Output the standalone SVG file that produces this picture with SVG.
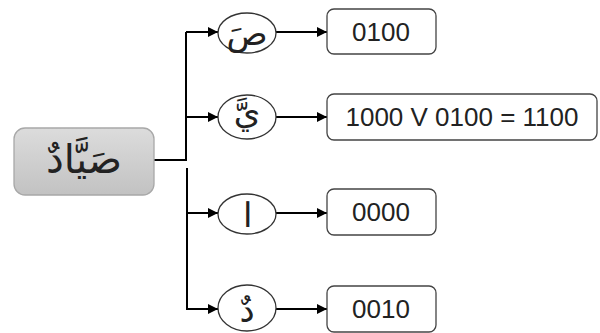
<svg xmlns="http://www.w3.org/2000/svg" width="600" height="333" viewBox="0 0 600 333">
<defs>
<linearGradient id="g" x1="0" y1="0" x2="0" y2="1">
<stop offset="0" stop-color="#dcdcdc"/>
<stop offset="1" stop-color="#c2c2c2"/>
</linearGradient>
<marker id="ah" viewBox="0 0 10 10" refX="10" refY="5" markerWidth="6" markerHeight="5" orient="auto" markerUnits="strokeWidth">
<path d="M0,0 L10,5 L0,10 z" fill="#000"/>
</marker>
</defs>
<style>
.box{fill:#fff;stroke:#444;stroke-width:1.3}
.ell{fill:#fff;stroke:#333;stroke-width:1.3}
.num{font-family:"Liberation Sans","DejaVu Sans",sans-serif;font-size:26px;fill:#222;text-anchor:middle;dominant-baseline:central}
.ar{font-family:"DejaVu Sans",sans-serif;font-size:34px;fill:#222;text-anchor:middle}
.ln{fill:none;stroke:#000;stroke-width:2}
.arr{fill:none;stroke:#000;stroke-width:2;marker-end:url(#ah)}
</style>
<rect width="600" height="333" fill="#fff"/>
<g id="connectors">
<polyline class="ln" points="154,160 186,160 186,32"/>
<line class="ln" x1="187" y1="168" x2="187" y2="310"/>
<line class="arr" x1="186" y1="32" x2="218" y2="32"/>
<line class="arr" x1="187" y1="117" x2="218" y2="117"/>
<line class="arr" x1="187" y1="213" x2="218" y2="213"/>
<line class="arr" x1="187" y1="309" x2="218" y2="309"/>
<line class="arr" x1="276" y1="32" x2="327" y2="32"/>
<line class="arr" x1="276" y1="117" x2="327" y2="117"/>
<line class="arr" x1="276" y1="213" x2="327" y2="213"/>
<line class="arr" x1="276" y1="309" x2="327" y2="309"/>
</g>
<g id="root">
<rect x="14" y="128" width="140" height="67" rx="11" fill="url(#g)" stroke="#a8a8a8" stroke-width="1.3"/>
<text class="ar" x="84" y="173" style="font-size:40px">صَيَّادٌ</text>
</g>
<g id="e1"><ellipse class="ell" cx="247" cy="33" rx="29" ry="20"/><text class="ar" x="247" y="45">صَ</text></g>
<g id="e2"><ellipse class="ell" cx="247" cy="117" rx="29" ry="22"/><text class="ar" x="247" y="124">يَّ</text></g>
<g id="e3"><ellipse class="ell" cx="247" cy="214" rx="29" ry="20"/><text class="ar" x="247" y="227" style="font-weight:300">ا</text></g>
<g id="e4"><ellipse class="ell" cx="247" cy="308" rx="29" ry="23"/><text class="ar" x="247" y="322">دٌ</text></g>
<g id="b1"><rect class="box" x="327" y="9" width="109" height="45" rx="7"/><text class="num" x="381" y="32">0100</text></g>
<g id="b2"><rect class="box" x="327" y="94" width="270" height="46" rx="7"/><text class="num" x="462" y="117">1000 V 0100 = 1100</text></g>
<g id="b3"><rect class="box" x="327" y="189" width="109" height="46" rx="7"/><text class="num" x="381" y="212">0000</text></g>
<g id="b4"><rect class="box" x="327" y="286" width="109" height="46" rx="7"/><text class="num" x="381" y="309">0010</text></g>
</svg>
